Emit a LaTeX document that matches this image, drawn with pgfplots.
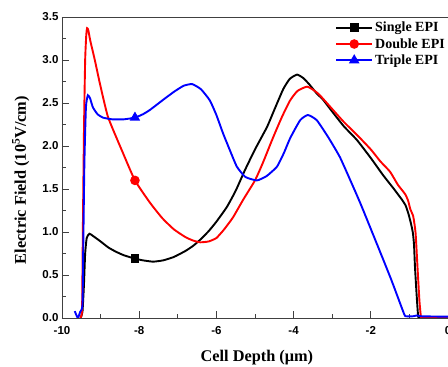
\documentclass[border=0pt]{standalone}
\usepackage{fontspec}
\setmainfont{Liberation Serif}
\newfontfamily\arialfont{Liberation Sans}
\usepackage{pgfplots}
\pgfplotsset{compat=1.18}
\begin{document}
\begin{tikzpicture}
\begin{axis}[name=ax, scale only axis, width=386pt, height=301pt,
  xmin=-10, xmax=0, ymin=0, ymax=3.5,
  axis y line*=left, y axis line style={-},
  xtick pos=bottom,
  xtick={-10,-8,-6,-4,-2,0}, minor x tick num=1,
  ytick={0,0.5,1,1.5,2,2.5,3,3.5}, minor y tick num=1,
  tick align=inside, major tick length=7pt, minor tick length=4pt,
  axis line style={black!75, line width=0.9pt},
  tick style={black!75, line width=0.9pt},
  ticklabel style={font=\arialfont\bfseries\fontsize{11.5}{13}\selectfont},
  xticklabel style={yshift=-5pt},
  /pgf/number format/assume math mode=true,
  yticklabel style={/pgf/number format/.cd, fixed, fixed zerofill, precision=1},
  xlabel={Cell Depth (μm)},
  ylabel={Electric Field (10\textsuperscript{5}V/cm)},
  label style={font=\bfseries\fontsize{16.3}{19}\selectfont},
  xlabel style={at={(axis description cs:0.505,-0.133)}, anchor=center},
  ylabel style={at={(axis description cs:-0.107,0.458)}, anchor=center},
  legend style={at={(1,1)}, anchor=north east, draw=none, fill=none,
    font=\bfseries\fontsize{14}{16}\selectfont, row sep=1pt, inner xsep=1pt, inner ysep=3pt},
  legend cell align=left,
  legend image code/.code={\draw[mark repeat=2,mark phase=2,#1] plot coordinates {(0pt,0pt)(18pt,0pt)(36pt,0pt)};},
  every axis plot/.append style={line width=1.9pt},
]
% Single EPI
\addplot[black, smooth, tension=0.3, forget plot] coordinates {
(-9.52,0) (-9.47,0.07) (-9.43,0.4) (-9.40,0.75) (-9.36,0.93) (-9.29,0.98) (-9.2,0.955)
(-9.0,0.89) (-8.8,0.82) (-8.6,0.77) (-8.4,0.73) (-8.11,0.69) (-7.9,0.67) (-7.64,0.655)
(-7.38,0.67) (-7.1,0.71) (-6.8,0.78) (-6.6,0.84) (-6.42,0.91) (-6.2,1.01) (-6.0,1.12)
(-5.73,1.29) (-5.5,1.48) (-5.26,1.72) (-5.0,1.96) (-4.69,2.22) (-4.5,2.42) (-4.27,2.66)
(-4.1,2.78) (-3.91,2.83) (-3.75,2.79) (-3.6,2.72) (-3.4,2.61) (-3.24,2.54) (-3.0,2.40)
(-2.7,2.23) (-2.36,2.07) (-2.0,1.86) (-1.68,1.66) (-1.4,1.50) (-1.20,1.38) (-1.10,1.31)
(-1.03,1.22) (-0.96,1.10) (-0.91,0.99) (-0.88,0.85) (-0.855,0.59) (-0.81,0.25)
(-0.77,0.01) (-0.7,0) (0,0)
};
\addplot[black, mark=square*, mark size=3.5pt] coordinates {(-8.11,0.69)};
\addlegendentry{Single EPI}
% Double EPI
\addplot[red, smooth, tension=0.3, forget plot] coordinates {
(-9.52,0) (-9.48,0.1) (-9.46,1.0) (-9.43,2.2) (-9.40,3.0) (-9.37,3.30) (-9.35,3.37)
(-9.32,3.35) (-9.27,3.23) (-9.15,3.0) (-9.02,2.73) (-8.81,2.34) (-8.45,1.95) (-8.11,1.60)
(-7.72,1.34) (-7.4,1.16) (-7.1,1.03) (-6.8,0.94) (-6.6,0.90) (-6.42,0.88) (-6.2,0.89)
(-6.0,0.93) (-5.8,1.03) (-5.57,1.17) (-5.3,1.38) (-5.0,1.60) (-4.8,1.80) (-4.53,2.10)
(-4.3,2.34) (-4.09,2.53) (-3.9,2.64) (-3.65,2.69) (-3.45,2.64) (-3.32,2.59) (-3.0,2.43)
(-2.7,2.28) (-2.36,2.13) (-2.0,1.96) (-1.75,1.82) (-1.5,1.70) (-1.3,1.55) (-1.11,1.44)
(-1.03,1.36) (-0.98,1.27) (-0.90,1.18) (-0.84,0.99) (-0.79,0.59) (-0.74,0.2)
(-0.70,0.01) (-0.65,0) (0,0)
};
\addplot[red, mark=*, mark size=3.8pt] coordinates {(-8.11,1.60)};
\addlegendentry{Double EPI}
% Triple EPI
\addplot[blue, smooth, tension=0.3, forget plot] coordinates {
(-9.67,0.08) (-9.59,0.0) (-9.53,0.07) (-9.47,0.15) (-9.45,0.8) (-9.42,1.8) (-9.38,2.45)
(-9.33,2.59) (-9.27,2.55) (-9.2,2.45) (-9.08,2.37) (-8.94,2.33) (-8.7,2.31) (-8.4,2.31)
(-8.11,2.33) (-7.9,2.37) (-7.72,2.42) (-7.4,2.53) (-7.1,2.63) (-6.85,2.70) (-6.63,2.72)
(-6.4,2.66) (-6.17,2.53) (-6.0,2.36) (-5.83,2.15) (-5.65,1.95) (-5.47,1.76) (-5.25,1.64)
(-4.95,1.60) (-4.7,1.65) (-4.43,1.76) (-4.25,1.92) (-4.09,2.09) (-3.83,2.30) (-3.63,2.36)
(-3.4,2.30) (-3.1,2.10) (-2.80,1.87) (-2.49,1.56) (-2.23,1.29) (-1.50,0.48) (-1.14,0.05)
(-1.08,0.02) (-0.9,0.02) (-0.8,0.03) (-0.7,0.02) (0,0.015)
};
\addplot[blue, mark=triangle*, mark size=4.2pt] coordinates {(-8.11,2.33)};
\addlegendentry{Triple EPI}
\end{axis}
\pgfresetboundingbox
\path ([xshift=-62pt,yshift=-49pt]ax.south west) rectangle ([yshift=17pt]ax.north east);
\end{tikzpicture}
\end{document}
